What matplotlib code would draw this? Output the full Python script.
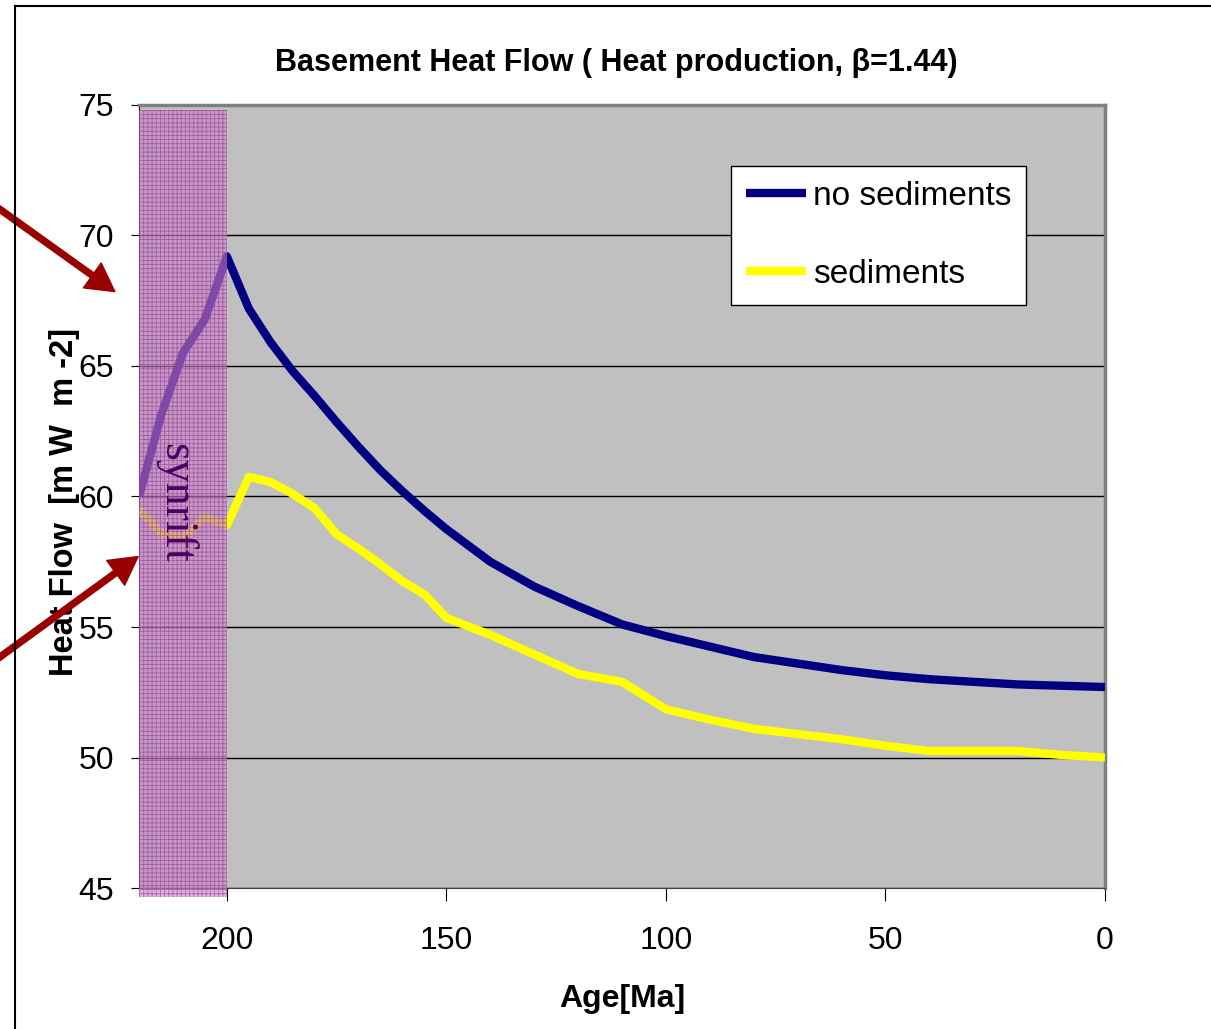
import matplotlib
matplotlib.use('Agg')
import matplotlib.pyplot as plt
from matplotlib.patches import Rectangle
from matplotlib.lines import Line2D

plt.rcParams['font.family'] = ['Liberation Sans', 'DejaVu Sans']
plt.rcParams['hatch.linewidth'] = 0.6

# данные: возраст [млн лет] и тепловой поток [мВт/м2]
age = [220, 215, 210, 205, 200, 195, 190, 185, 180, 175, 170, 165, 160, 155, 150,
       140, 130, 120, 110, 100, 90, 80, 70, 60, 50, 40, 30, 20, 10, 0]
no_sediments = [60.0, 63.1, 65.5, 66.8, 69.2, 67.2, 65.9, 64.8, 63.85, 62.85, 61.9, 61.0,
                60.2, 59.45, 58.75, 57.5, 56.55, 55.8, 55.1, 54.65, 54.25, 53.85, 53.6,
                53.35, 53.15, 53.0, 52.9, 52.8, 52.75, 52.7]
sediments = [59.5, 58.6, 58.4, 59.2, 58.9, 60.75, 60.55, 60.1, 59.55, 58.55, 58.0, 57.4,
             56.75, 56.25, 55.35, 54.7, 53.95, 53.2, 52.9, 51.85, 51.45, 51.1, 50.9,
             50.7, 50.45, 50.25, 50.25, 50.25, 50.1, 50.0]
synrift = (220, 200)
x_ticks = [200, 150, 100, 50, 0]
y_ticks = [45, 50, 55, 60, 65, 70, 75]

fig = plt.figure(figsize=(12.11, 10.29), dpi=100)
ax = fig.add_axes([0.1148, 0.1370, 0.7977, 0.7610])
ax.set_facecolor('#c0c0c0')

ax.plot(age, no_sediments, color='#000080', lw=6, solid_capstyle='butt', zorder=3, label='no sediments')
ax.plot(age, sediments, color='#ffff00', lw=6, solid_capstyle='butt', zorder=3, label='sediments')

# синрифтовая зона
rect = Rectangle((synrift[1], 44.65), synrift[0] - synrift[1], 30.15,
                 facecolor=(0.76, 0.52, 0.76, 0.6), edgecolor=(0.64, 0.22, 0.64, 0.7),
                 hatch='++++', lw=0, zorder=4, clip_on=False)
ax.add_patch(rect)
ax.text(211.6, 59.75, 'synrift', rotation=-90, ha='center', va='center',
        family='Liberation Serif', fontsize=33, color='#4b0060', zorder=5)

ax.set_xlim(220, 0)
ax.set_ylim(45, 75)
ax.set_xticks(x_ticks)
ax.set_yticks(y_ticks)
ax.yaxis.grid(True, color='black', lw=1)
ax.set_axisbelow(True)
ax.tick_params(axis='both', labelsize=23, direction='out', color='black')
ax.tick_params(axis='y', length=6, pad=12)
ax.tick_params(axis='x', length=9, pad=18)

for side in ['top', 'right']:
    ax.spines[side].set_color('#808080')
    ax.spines[side].set_linewidth(2.5)
ax.spines['left'].set_color('black')
ax.spines['bottom'].set_color('#404040')

fig.text(0.509, 0.9388, 'Basement Heat Flow ( Heat production, \u03b2=1.44)',
         ha='center', va='center', fontsize=22, fontweight='bold')
ax.set_xlabel('Age[Ma]', fontsize=23, fontweight='bold')
ax.xaxis.set_label_coords(0.5, -0.1226)
ax.set_ylabel('Heat Flow  [m W  m -2]', fontsize=23.5, fontweight='bold', va='center')
ax.yaxis.set_label_coords(-0.0776, 0.493)

leg = ax.legend(loc='upper left', bbox_to_anchor=(0.6128, 0.922), borderaxespad=0,
                fontsize=24, frameon=True, fancybox=False, handlelength=1.8,
                handletextpad=0.2, borderpad=0.45, labelspacing=1.4)
leg.get_frame().set_edgecolor('black')
leg.get_frame().set_linewidth(1)
leg.get_frame().set_alpha(1)
leg.set_zorder(6)

# стрелки
arrow = dict(facecolor='#990000', edgecolor='#990000', width=4.3, headwidth=22,
             headlength=20, shrink=0)
ax.annotate('', xy=(225.5, 67.85), xytext=(252.5, 71.1), arrowprops=arrow, annotation_clip=False)
ax.annotate('', xy=(220.2, 57.7), xytext=(252.5, 53.75), arrowprops=arrow, annotation_clip=False)

# рамка
fig.add_artist(Line2D([15 / 1211, 15 / 1211], [0, 1 - 6 / 1029], color='black', lw=1.5))
fig.add_artist(Line2D([15 / 1211, 1], [1 - 6 / 1029, 1 - 6 / 1029], color='black', lw=1.5))

fig.savefig('out.png', dpi=100)
